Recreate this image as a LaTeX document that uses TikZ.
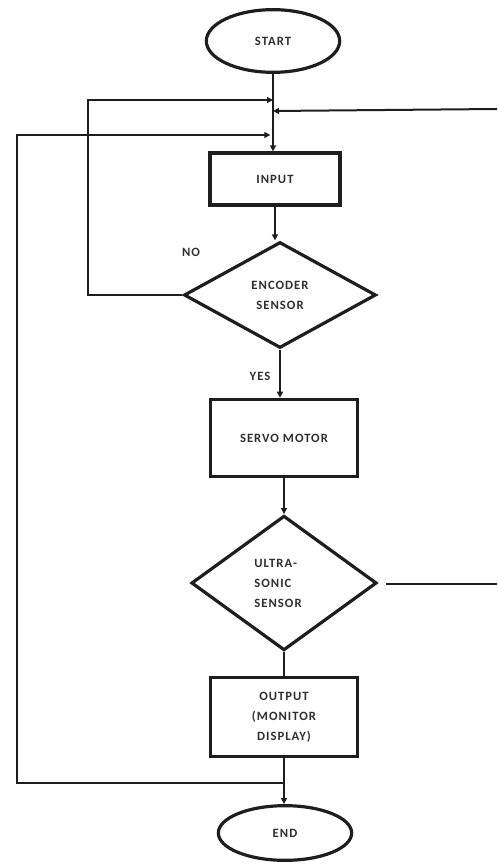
\documentclass[tikz,border=0pt]{standalone}
\usepackage{fontspec}
\setmainfont[LetterSpace=8]{Carlito}
\usetikzlibrary{shapes.geometric,arrows.meta}
\definecolor{ink}{HTML}{1E1E1E}
\definecolor{txt}{HTML}{2E2E2E}
\begin{document}
\begin{tikzpicture}[x=0.75pt,y=-0.75pt,
  shp/.style={draw=ink,line width=2.4pt,text=txt,font=\bfseries\fontsize{9.5}{15}\selectfont,inner sep=1pt},
  term/.style={shp,ellipse},
  procbox/.style={shp,rectangle,align=center},
  decide/.style={shp,diamond,align=center,inner sep=0pt},
  conn/.style={draw=ink,line width=1.5pt},
  arr/.style={conn,-{Triangle[length=4.5pt,width=4.5pt]}},
  lbl/.style={text=txt,font=\bfseries\fontsize{9.5}{10}\selectfont}]
\useasboundingbox (0,0) rectangle (497,866);

\node[term,minimum width=100pt,minimum height=47pt] (start) at (273,41) {START};
\node[procbox,minimum width=97.5pt,minimum height=39pt] (input) at (275,179) {INPUT};
\node[decide,minimum width=144pt,minimum height=79.5pt] (enc) at (280,295) {ENCODER\\SENSOR};
\node[procbox,minimum width=110pt,minimum height=58pt] (servo) at (284,438) {SERVO MOTOR};
\node[decide,minimum width=139pt,minimum height=101pt,align=left] (ultra) at (284,583) {ULTRA-\\SONIC\\SENSOR\hspace*{9pt}};
\node[procbox,minimum width=110pt,minimum height=59pt] (output) at (284,717) {OUTPUT\\(MONITOR\\DISPLAY)};
\node[term,minimum width=100pt,minimum height=41pt] (end) at (285,833) {END};

\node[lbl] (no) at (191,252) {NO};
\node[lbl] (yes) at (260,376) {YES};

% coordinates on the main line
\coordinate (m1) at (start.south |- 0,100);
\coordinate (m2) at (start.south |- 0,111);
\coordinate (m3) at (start.south |- 0,135);
\coordinate (noc) at (88,100);
\coordinate (botc) at (17,783);
\coordinate (rtop) at (497,109);
\coordinate (rbot) at (497,584);
\coordinate (ue) at (386,584);
\coordinate (b1) at (end.north |- 0,783);

% main flow
\draw[arr] (start.south) -- (start.south |- input.north);
\draw[arr] (input.south) -- (input.south |- enc.north);
\draw[arr] (enc.south) -- (enc.south |- servo.north);
\draw[arr] (servo.south) -- (servo.south |- ultra.north);
\draw[conn] (ultra.south) -- (ultra.south |- output.north);
\draw[arr] (output.south) -- (output.south |- end.north);

% NO loop
\draw[arr] (enc.west) -| (noc) -- (m1);
% right return
\draw[arr] (rtop) -- (m2);
\draw[conn] (ue) -- (rbot);
% bottom return
\draw[arr] (b1) -- (botc) -- (botc |- m3) -- ([xshift=-2pt]m3);
\end{tikzpicture}
\end{document}
